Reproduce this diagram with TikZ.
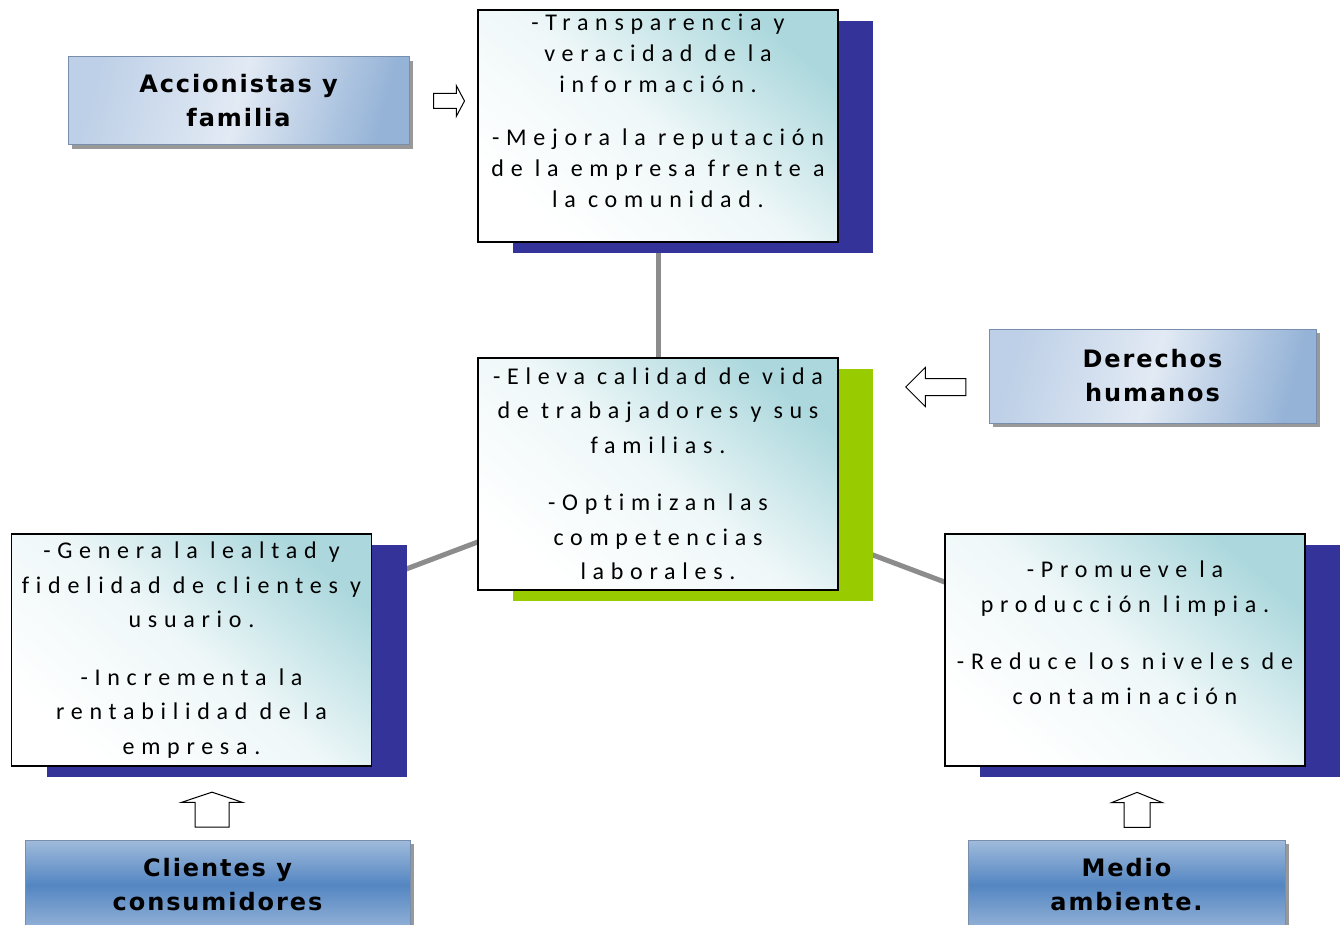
\documentclass[tikz,border=0pt]{standalone}
\usepackage{fontspec}
\usetikzlibrary{shapes.arrows,shadows,backgrounds}
\setmainfont{Carlito}
\newfontfamily\corps[LetterSpace=28, Ligatures=NoCommon]{Carlito}
\newfontfamily\etiq[LetterSpace=8]{DejaVu Sans}
\definecolor{ombrebleu}{RGB}{51,51,153}
\definecolor{ombrevert}{RGB}{153,204,0}
\definecolor{sarcelle}{RGB}{172,216,221}
\definecolor{bleupale}{RGB}{190,208,231}
\definecolor{bleuclair}{RGB}{226,234,244}
\definecolor{bleumoyen}{RGB}{149,179,215}
\definecolor{bleufonce}{RGB}{84,134,194}
\definecolor{trait}{RGB}{140,140,140}
\tikzset{
  boite/.style={draw=black, line width=1.5pt, top color=sarcelle, bottom color=white,
    middle color=sarcelle!20, shading angle=-40, minimum width=360pt,
    minimum height=232pt, inner sep=0pt, align=center,
    font=\corps\fontsize{24}{34.5}\selectfont,
    drop shadow={shadow xshift=35pt, shadow yshift=-11pt, fill=#1, opacity=1}},
  etiquette/.style={draw=bleumoyen!80!black, line width=1pt, inner sep=0pt, align=center,
    font=\etiq\bfseries\fontsize{24}{34}\selectfont,
    drop shadow={shadow xshift=4pt, shadow yshift=-4pt, fill=black!40, opacity=1}},
  claire/.style={etiquette, left color=bleupale, right color=bleumoyen,
    middle color=bleuclair, shading angle=75},
  foncee/.style={etiquette, top color=bleumoyen!90, bottom color=bleumoyen,
    middle color=bleufonce},
  fleche/.style={single arrow, draw=black, fill=white, line width=1pt,
    inner sep=0pt, text depth=0pt}
}
\begin{document}
\begin{tikzpicture}[x=1pt, y=-1pt]
\useasboundingbox (0, 0) rectangle (1340, 925);
\clip (0, 0) rectangle (1340, 925);

\draw (658, 126) node[boite=ombrebleu, font=\corps\fontsize{24}{31}\selectfont] (h)
  {-Transparencia y\\veracidad de la\\información.\\[22pt]-Mejora la reputación\\de la empresa frente a\\la comunidad.\\ \mbox{}};
\draw (658, 474) node[boite=ombrevert] (c)
  {-Eleva calidad de vida\\de trabajadores y sus\\familias.\\[23pt]-Optimizan las\\competencias\\laborales.};
\draw (191.5, 650) node[boite=ombrebleu] (g)
  {-Genera la lealtad y\\fidelidad de clientes y\\usuario.\\[23pt]-Incrementa la\\rentabilidad de la\\empresa.};
\draw (1125, 650) node[boite=ombrebleu] (d)
  {-Promueve la\\producción limpia.\\[23pt]-Reduce los niveles de\\contaminación\\ \mbox{}};

\draw (238.5, 101) node[claire, minimum width=341pt, minimum height=88pt] (eh) {Accionistas y\\familia};
\draw (1152.5, 376) node[claire, minimum width=327pt, minimum height=94pt] (ec) {Derechos\\humanos};
\draw (217.5, 885) node[foncee, minimum width=385pt, minimum height=90pt] (eg) {Clientes y\\consumidores};
\draw (1126.5, 885) node[foncee, minimum width=317pt, minimum height=90pt] (ed) {Medio\\ambiente.};

\draw (447, 101) node[fleche, text height=14pt, minimum height=31pt,
  single arrow head extend=8pt, single arrow tip angle=124] (fh) {};
\draw (940, 387) node[fleche, rotate=180, text height=16pt, minimum height=60pt,
  single arrow head extend=11pt, single arrow tip angle=90] (fc) {};
\draw (212, 812.5) node[fleche, rotate=90, text height=33pt, minimum height=35pt,
  single arrow head extend=13.5pt, single arrow tip angle=143] (fg) {};
\draw (1137, 812.5) node[fleche, rotate=90, text height=25pt, minimum height=35pt,
  single arrow head extend=12.5pt, single arrow tip angle=136] (fd) {};

\begin{scope}[on background layer]
\draw[trait, line width=5pt] (h) -- (c);
\draw[trait, line width=5pt] (g.center) -- (c.center);
\draw[trait, line width=5pt] (d.center) -- (c.center);
\end{scope}
\end{tikzpicture}
\end{document}
